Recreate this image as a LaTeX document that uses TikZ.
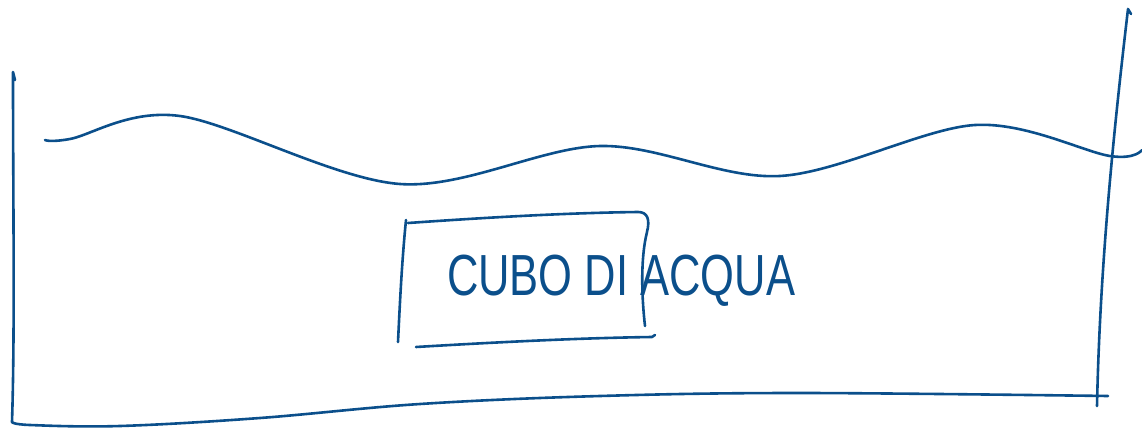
\documentclass[tikz,border=0pt]{standalone}
\usepackage{fontspec}
\setmainfont{Liberation Sans}
\definecolor{ink}{HTML}{0B4F8B}
\begin{document}
\begin{tikzpicture}[x=1pt,y=-1pt,
  pen/.style={draw=ink,line width=2.6pt,line cap=round,line join=round},
  label/.style={text=ink,font=\fontsize{58}{58}\selectfont,xscale=0.75,transform shape,inner sep=0pt}]
\useasboundingbox (0,0) rectangle (1142,428);
% container left and bottom
\draw[pen] (15,80) -- (13,72) .. controls (13,200) and (15,330) .. (12,422)
  plot[smooth,tension=0.6] coordinates {(12,422) (30,425) (120,426) (260,418) (420,404) (600,396) (800,393) (1108,396)};
% container right
\draw[pen] (1131,14) -- (1128,9) .. controls (1115,120) and (1100,260) .. (1097,406);
% water surface
\draw[pen] plot[smooth,tension=0.55] coordinates {(45,140) (70,139) (180,116) (400,184) (600,146) (780,176) (975,125) (1110,156) (1142,150)};
% box
\draw[pen] (406,220) .. controls (402,260) and (400,300) .. (398,342);
\draw[pen] (408,223) .. controls (480,218) and (560,213) .. (638,212)
  .. controls (648,212) and (650,220) .. (647,232)
  .. controls (640,260) and (642,300) .. (645,326);
\draw[pen] (416,347) .. controls (500,342) and (580,338) .. (652,337) -- (655,335);
% text
\node[label,anchor=base west] (t) at (447,295) {CUBO DI ACQUA};
\end{tikzpicture}
\end{document}
